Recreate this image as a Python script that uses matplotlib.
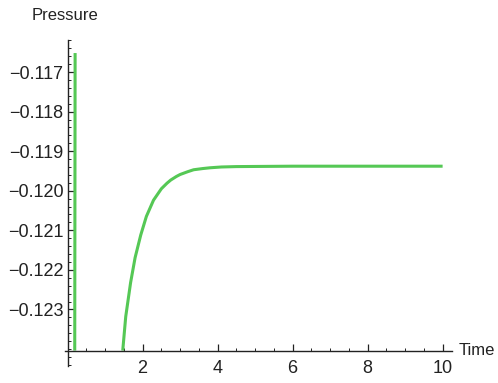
import numpy as np
import matplotlib
matplotlib.use('Agg')
import matplotlib.pyplot as plt
from matplotlib.ticker import MultipleLocator, FuncFormatter

plt.rcParams.update({
    'font.family': ['Liberation Sans', 'DejaVu Sans'],
    'font.size': 12,
})

GREEN = '#55c855'
TXT = '#222222'

# left branch (almost vertical)
t_left = [0.20, 0.19]
p_left = [-0.11652, -0.12404]

# right branch
t_right = [1.47, 1.55, 1.68, 1.80, 1.95, 2.10, 2.29, 2.50, 2.65, 2.75, 2.90,
           3.00, 3.20, 3.36, 3.60, 3.80, 4.10, 4.50, 6.00, 8.00, 10.0]
p_right = [-0.12404, -0.12318, -0.12232, -0.12169, -0.12112, -0.12065,
           -0.12024, -0.11995, -0.11981, -0.11973, -0.11964, -0.11959,
           -0.11952, -0.11947, -0.11944, -0.11942, -0.11940, -0.11939,
           -0.11938, -0.11938, -0.11938]

x_ticks = [2, 4, 6, 8, 10]
y_ticks = [-0.117, -0.118, -0.119, -0.120, -0.121, -0.122, -0.123]
y_origin = -0.12404

fig = plt.figure(figsize=(4.98, 3.83), dpi=100)
ax = fig.add_axes([0.1305, 0.0444, 0.9076 - 0.1305, 0.8956 - 0.0444])

ax.plot(t_left, p_left, color=GREEN, lw=2.2, solid_capstyle='butt')
ax.plot(t_right, p_right, color=GREEN, lw=2.2, solid_capstyle='butt')

ax.set_xlim(-0.07, 10.25)
ax.set_ylim(-0.12443, -0.11619)

for s in ['top', 'right']:
    ax.spines[s].set_visible(False)
ax.spines['left'].set_position(('data', 0))
ax.spines['bottom'].set_position(('data', y_origin))
for s in ['left', 'bottom']:
    ax.spines[s].set_linewidth(1.0)
    ax.spines[s].set_color(TXT)

ax.set_xticks(x_ticks)
ax.set_yticks(y_ticks)
ax.xaxis.set_minor_locator(MultipleLocator(0.5))
ax.yaxis.set_minor_locator(MultipleLocator(0.0002))
ax.yaxis.set_major_formatter(FuncFormatter(lambda v, p: '\u2212%.3f' % abs(v)))
ax.tick_params(which='major', direction='in', length=5, width=0.9, color=TXT,
               labelsize=13, labelcolor=TXT)
ax.tick_params(which='minor', direction='in', length=2.5, width=0.7, color=TXT)
ax.tick_params(axis='x', pad=7)
ax.tick_params(axis='y', pad=3)

ax.text(10.42, y_origin, 'Time', ha='left', va='center', fontsize=12,
        color=TXT, clip_on=False)
fig.text(65 / 498, 1 - 15 / 383, 'Pressure', ha='center', va='center',
         fontsize=12, color=TXT)

fig.savefig('out.png', dpi=100)
